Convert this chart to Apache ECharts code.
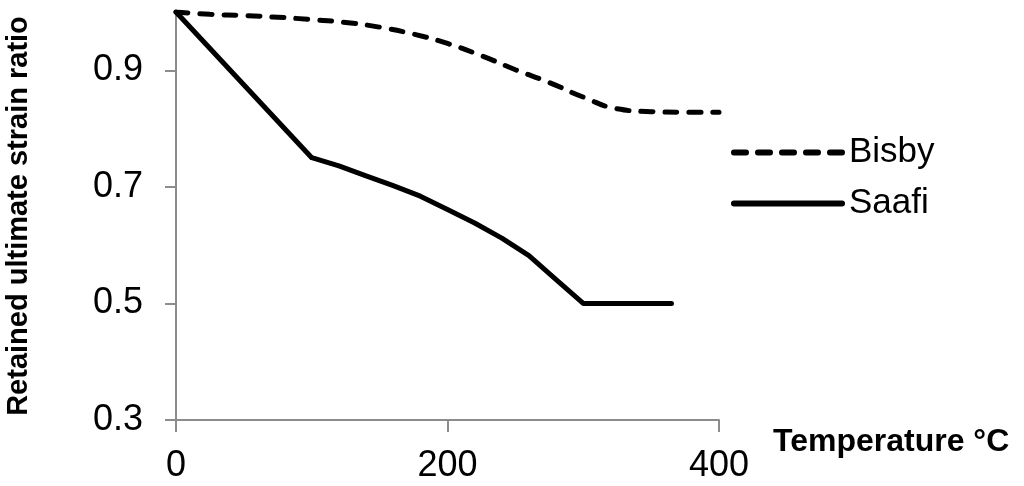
<!DOCTYPE html>
<html>
<head>
<meta charset="utf-8">
<script src="https://cdn.jsdelivr.net/npm/echarts@6/dist/echarts.min.js"></script>
<style>html,body{margin:0;padding:0;background:#fff}#c{width:1024px;height:486px}</style>
</head>
<body>
<div id="c"></div>
<script>
var bisbyX = [0, 25, 50, 75, 100, 125, 150, 175, 200, 225, 250, 275, 300, 325, 350, 375, 400];
var bisbyY = [1.0, 0.996, 0.994, 0.991, 0.987, 0.982, 0.974, 0.962, 0.946, 0.925, 0.901, 0.879, 0.854, 0.834, 0.829, 0.828, 0.828];
var saafiX = [0, 100, 120, 140, 160, 180, 200, 220, 240, 260, 280, 300, 365];
var saafiY = [1.0, 0.75, 0.736, 0.719, 0.702, 0.684, 0.661, 0.638, 0.612, 0.582, 0.541, 0.5, 0.5];
var yTicks = [0.3, 0.5, 0.7, 0.9];
var xTicks = [0, 200, 400];

function pairs(xs, ys) { return xs.map(function (x, i) { return [x, ys[i]]; }); }

var font = 'Liberation Sans, Arial, sans-serif';
var axisGray = '#8c8c8c';
var chart = echarts.init(document.getElementById('c'));
chart.setOption({
  animation: false,
  backgroundColor: '#fff',
  grid: { left: 176, right: 305, top: 12, bottom: 66, containLabel: false, outerBoundsMode: 'none' },
  legend: {
    orient: 'vertical',
    left: 726, top: 130,
    itemWidth: 108, itemHeight: 8,
    itemGap: 16,
    itemStyle: { opacity: 0 },
    lineStyle: { width: 6, cap: 'round' },
    textStyle: { fontFamily: font, fontSize: 35, color: '#000', padding: [0, 0, 0, 2] },
    data: ['Bisby', 'Saafi']
  },
  xAxis: {
    type: 'value', min: 0, max: 400, interval: 200,
    name: 'Temperature °C', nameLocation: 'end', nameGap: 54,
    nameTextStyle: { fontFamily: font, fontSize: 32, fontWeight: 'bold', color: '#000', verticalAlign: 'top', padding: [6, 0, 0, 0] },
    axisLine: { show: true, lineStyle: { color: axisGray, width: 2 } },
    axisTick: { show: true, length: 12, lineStyle: { color: axisGray, width: 2 }, customValues: xTicks },
    axisLabel: { fontFamily: font, fontSize: 36, color: '#000', margin: 28, customValues: xTicks },
    splitLine: { show: false }
  },
  yAxis: {
    type: 'value', min: 0.3, max: 1.0, interval: 0.2,
    name: 'Retained ultimate strain ratio', nameLocation: 'middle', nameGap: 143,
    nameTextStyle: { fontFamily: font, fontSize: 29, fontWeight: 'bold', color: '#000' },
    axisLine: { show: true, lineStyle: { color: axisGray, width: 2 } },
    axisTick: { show: true, length: 11, lineStyle: { color: axisGray, width: 2 }, customValues: yTicks },
    axisLabel: { fontFamily: font, fontSize: 36, color: '#000', margin: 33, customValues: yTicks,
      formatter: function (v) { return v.toFixed(1); } },
    splitLine: { show: false }
  },
  series: [
    {
      name: 'Bisby', type: 'line', data: pairs(bisbyX, bisbyY), smooth: true,
      symbol: 'none', color: '#000',
      lineStyle: { color: '#000', width: 5, type: [12, 12], cap: 'round' }
    },
    {
      name: 'Saafi', type: 'line', data: pairs(saafiX, saafiY), smooth: false,
      symbol: 'none', color: '#000',
      lineStyle: { color: '#000', width: 5, cap: 'round', join: 'round' }
    }
  ]
});
</script>
</body>
</html>
